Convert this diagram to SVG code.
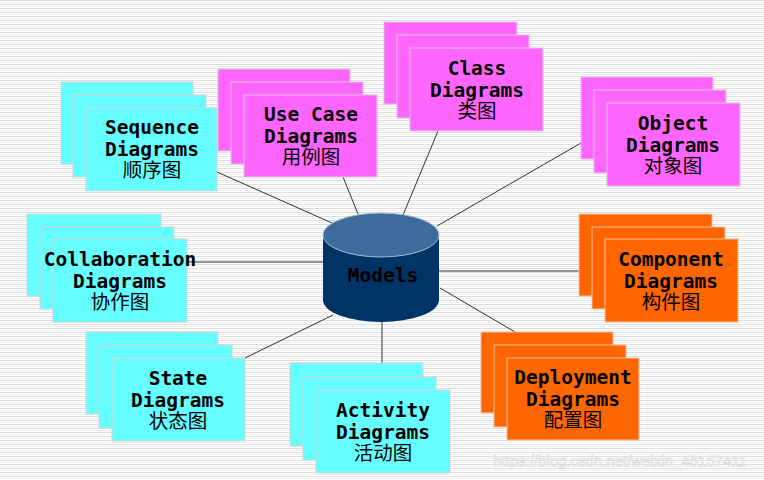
<svg xmlns="http://www.w3.org/2000/svg" width="764" height="480" viewBox="0 0 764 480">
<defs>
<pattern id="bg" width="8" height="4" patternUnits="userSpaceOnUse">
<rect width="8" height="4" fill="#ffffff"/>
<rect y="0" width="8" height="1" fill="#dedede"/>
<rect y="2" width="8" height="1" fill="#efefef"/>
</pattern>
</defs>
<style>
.c rect{fill:#66ffff;stroke:#d4d4d4;stroke-width:1}
.m rect{fill:#ff66ff;stroke:#e0c0e0;stroke-width:1}
.o rect{fill:#ff6600;stroke:#f0c0a0;stroke-width:1}
.t{font-family:"DejaVu Sans Mono","Liberation Mono",monospace;font-weight:bold;font-size:19.5px;fill:#000;text-anchor:middle}
.z{font-family:"Noto Sans CJK SC","Noto Sans CJK TC",sans-serif;font-size:19.5px;fill:#000;text-anchor:middle}
#connectors line{stroke:#333;stroke-width:1}
</style>
<rect width="764" height="480" fill="url(#bg)"/>
<text x="620" y="466" font-family="Liberation Sans, Arial, sans-serif" font-size="15" fill="#ffffff" stroke="#d6d6d6" stroke-width="0.6" text-anchor="middle">https://blog.csdn.net/weixin_45157411</text>
<g id="connectors">
<line x1="217" y1="172" x2="332" y2="223"/>
<line x1="343" y1="177" x2="358" y2="214"/>
<line x1="438" y1="131" x2="403" y2="215"/>
<line x1="437" y1="226" x2="581" y2="143"/>
<line x1="161" y1="262" x2="323" y2="262"/>
<line x1="439" y1="271" x2="579" y2="271"/>
<line x1="440" y1="288" x2="515" y2="332"/>
<line x1="382" y1="322" x2="382" y2="363"/>
<line x1="245" y1="358" x2="333" y2="315"/>
</g>
<g id="models">
<path d="M323,235 V300 A58,22 0 0 0 439,300 V235 Z" fill="#003366"/>
<ellipse cx="381" cy="235" rx="58" ry="22" fill="#3d6b9c" stroke="#a8bccf" stroke-width="1"/>
<text class="t" x="383" y="282">Models</text>
</g>
<g id="sequence" class="c" transform="translate(86,108)">
<rect x="-25" y="-26" width="132" height="82"/>
<rect x="-13" y="-13" width="133" height="82"/>
<rect x="0" y="0" width="131" height="83"/>
<text class="t" x="66" y="26">Sequence</text>
<text class="t" x="66" y="48">Diagrams</text>
<text class="z" x="66" y="69">顺序图</text>
</g>
<g id="usecase" class="m" transform="translate(244,95)">
<rect x="-26" y="-26" width="132" height="82"/>
<rect x="-13" y="-13" width="132" height="82"/>
<rect x="0" y="0" width="133" height="82"/>
<text class="t" x="67" y="26">Use Case</text>
<text class="t" x="67" y="48">Diagrams</text>
<text class="z" x="67" y="69">用例图</text>
</g>
<g id="class" class="m" transform="translate(410,48)">
<rect x="-26" y="-26" width="133" height="82"/>
<rect x="-13" y="-13" width="132" height="83"/>
<rect x="0" y="0" width="133" height="83"/>
<text class="t" x="67" y="27">Class</text>
<text class="t" x="67" y="49">Diagrams</text>
<text class="z" x="67" y="70">类图</text>
</g>
<g id="object" class="m" transform="translate(607,103)">
<rect x="-26" y="-26" width="132" height="82"/>
<rect x="-13" y="-13" width="132" height="83"/>
<rect x="0" y="0" width="133" height="83"/>
<text class="t" x="66" y="27">Object</text>
<text class="t" x="66" y="49">Diagrams</text>
<text class="z" x="66" y="70">对象图</text>
</g>
<g id="collaboration" class="c" transform="translate(53,239)">
<rect x="-26" y="-25" width="134" height="82"/>
<rect x="-13" y="-12" width="134" height="82"/>
<rect x="0" y="0" width="134" height="83"/>
<text class="t" x="67" y="27">Collaboration</text>
<text class="t" x="67" y="49">Diagrams</text>
<text class="z" x="67" y="70">协作图</text>
</g>
<g id="component" class="o" transform="translate(605,239)">
<rect x="-26" y="-25" width="133" height="82"/>
<rect x="-13" y="-12" width="133" height="82"/>
<rect x="0" y="0" width="133" height="83"/>
<text class="t" x="66" y="27">Component</text>
<text class="t" x="66" y="49">Diagrams</text>
<text class="z" x="66" y="70">构件图</text>
</g>
<g id="deployment" class="o" transform="translate(507,358)">
<rect x="-26" y="-26" width="132" height="81"/>
<rect x="-13" y="-13" width="132" height="82"/>
<rect x="0" y="0" width="132" height="82"/>
<text class="t" x="66" y="26">Deployment</text>
<text class="t" x="66" y="48">Diagrams</text>
<text class="z" x="66" y="69">配置图</text>
</g>
<g id="activity" class="c" transform="translate(316,390)">
<rect x="-26" y="-27" width="133" height="83"/>
<rect x="-13" y="-13" width="133" height="83"/>
<rect x="0" y="0" width="134" height="83"/>
<text class="t" x="67" y="27">Activity</text>
<text class="t" x="67" y="49">Diagrams</text>
<text class="z" x="67" y="70">活动图</text>
</g>
<g id="state" class="c" transform="translate(112,358)">
<rect x="-26" y="-26" width="132" height="82"/>
<rect x="-13" y="-13" width="133" height="83"/>
<rect x="0" y="0" width="133" height="83"/>
<text class="t" x="66" y="27">State</text>
<text class="t" x="66" y="49">Diagrams</text>
<text class="z" x="66" y="70">状态图</text>
</g>
</svg>
